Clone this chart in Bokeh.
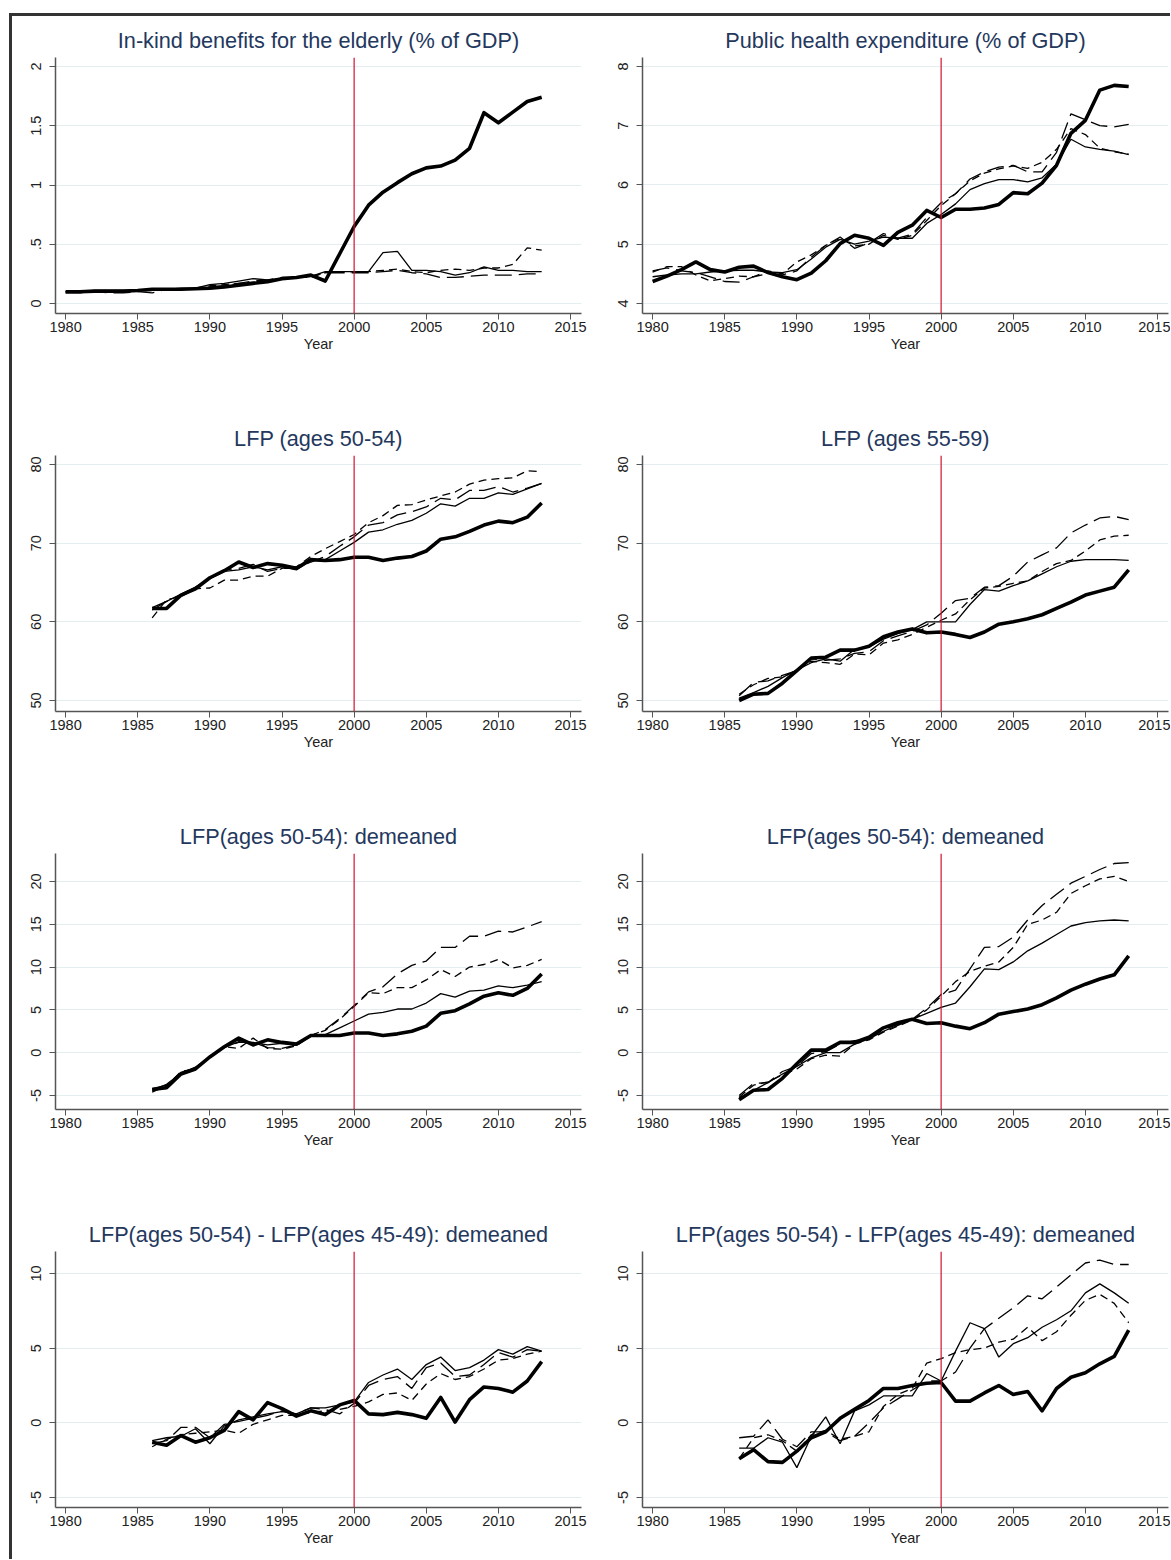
from bokeh.plotting import figure
from bokeh.layouts import column, row
from bokeh.models import Span, FixedTicker, CustomJSTickFormatter, Range1d
from bokeh.embed import file_html
from bokeh.resources import INLINE

# ---------------- data ----------------
years_long = list(range(1980, 2014))
years_short = list(range(1986, 2014))
x_ticks = [1980, 1985, 1990, 1995, 2000, 2005, 2010, 2015]
treat_year = 2000

titles = [
    "In-kind benefits for the elderly (% of GDP)",
    "Public health expenditure (% of GDP)",
    "LFP (ages 50-54)",
    "LFP (ages 55-59)",
    "LFP(ages 50-54): demeaned",
    "LFP(ages 50-54): demeaned",
    "LFP(ages 50-54) - LFP(ages 45-49): demeaned",
    "LFP(ages 50-54) - LFP(ages 45-49): demeaned",
]

# panel 1: in-kind benefits (1980-2013)
inkind_actual = [0.10, 0.10, 0.105, 0.105, 0.105, 0.11, 0.12, 0.12, 0.12, 0.125,
                 0.13, 0.14, 0.155, 0.17, 0.185, 0.21, 0.22, 0.24, 0.19, 0.42,
                 0.65, 0.83, 0.94, 1.02, 1.095, 1.145, 1.16, 1.21, 1.31, 1.61,
                 1.525, 1.615, 1.705, 1.74]
inkind_synth = [0.10, 0.10, 0.11, 0.11, 0.11, 0.11, 0.12, 0.12, 0.13, 0.13,
                0.16, 0.17, 0.19, 0.21, 0.20, 0.21, 0.22, 0.23, 0.27, 0.27,
                0.27, 0.27, 0.43, 0.44, 0.28, 0.28, 0.27, 0.24, 0.26, 0.31,
                0.28, 0.28, 0.27, 0.27]
inkind_short = [0.10, 0.10, 0.10, 0.10, 0.10, 0.11, 0.11, 0.12, 0.12, 0.13,
                0.15, 0.16, 0.17, 0.18, 0.19, 0.21, 0.22, 0.22, 0.26, 0.27,
                0.27, 0.27, 0.28, 0.29, 0.27, 0.26, 0.28, 0.29, 0.28, 0.30,
                0.30, 0.33, 0.47, 0.45]
inkind_long = [0.09, 0.09, 0.10, 0.09, 0.09, 0.10, 0.09, 0.12, 0.12, 0.12,
               0.14, 0.15, 0.17, 0.19, 0.20, 0.22, 0.22, 0.23, 0.26, 0.26,
               0.26, 0.26, 0.27, 0.28, 0.26, 0.25, 0.22, 0.22, 0.23, 0.24,
               0.24, 0.24, 0.25, 0.25]

# panel 2: public health expenditure (1980-2013)
health_actual = [4.37, 4.46, 4.57, 4.70, 4.57, 4.53, 4.61, 4.63, 4.52, 4.45,
                 4.40, 4.51, 4.72, 5.01, 5.15, 5.10, 4.98, 5.20, 5.32, 5.57,
                 5.45, 5.59, 5.59, 5.61, 5.67, 5.87, 5.85, 6.03, 6.33, 6.87,
                 7.09, 7.60, 7.68, 7.66]
health_synth = [4.45, 4.48, 4.50, 4.50, 4.53, 4.55, 4.56, 4.56, 4.53, 4.52,
                4.57, 4.75, 4.95, 5.08, 5.00, 5.05, 5.12, 5.10, 5.10, 5.35,
                5.50, 5.68, 5.92, 6.02, 6.09, 6.09, 6.05, 6.12, 6.35, 6.77,
                6.64, 6.60, 6.57, 6.51]
health_short = [4.53, 4.62, 4.62, 4.48, 4.38, 4.42, 4.46, 4.45, 4.55, 4.50,
                4.70, 4.82, 4.98, 5.10, 4.97, 5.00, 5.15, 5.08, 5.15, 5.40,
                5.65, 5.85, 6.07, 6.20, 6.27, 6.32, 6.28, 6.38, 6.60, 6.95,
                6.85, 6.62, 6.56, 6.52]
health_long = [4.55, 4.60, 4.55, 4.52, 4.45, 4.37, 4.36, 4.45, 4.50, 4.48,
               4.55, 4.78, 4.98, 5.12, 4.93, 5.02, 5.18, 5.10, 5.17, 5.45,
               5.70, 5.85, 6.10, 6.22, 6.30, 6.33, 6.22, 6.22, 6.55, 7.20,
               7.10, 7.00, 6.98, 7.02]

# panel 3: LFP 50-54 (1986-2013)
lfp5054_actual = [61.7, 61.7, 63.4, 64.2, 65.6, 66.5, 67.6, 66.9, 67.4, 67.2,
                  66.8, 67.9, 67.8, 67.9, 68.2, 68.2, 67.8, 68.1, 68.3, 69.0,
                  70.5, 70.8, 71.5, 72.3, 72.8, 72.6, 73.3, 75.1]
lfp5054_synth = [61.5, 62.6, 63.5, 64.4, 65.5, 66.4, 66.6, 67.0, 66.6, 67.0,
                 66.6, 67.8, 67.9, 69.0, 70.1, 71.4, 71.7, 72.4, 72.9, 73.8,
                 75.0, 74.7, 75.7, 75.7, 76.4, 76.2, 76.9, 77.6]
lfp5054_short = [60.5, 62.8, 63.2, 64.2, 64.3, 65.3, 65.3, 65.8, 65.8, 66.8,
                 67.0, 68.3, 69.3, 70.2, 71.1, 72.6, 73.5, 74.8, 74.9, 75.5,
                 76.0, 76.5, 77.5, 78.0, 78.2, 78.3, 79.2, 79.1]
lfp5054_long = [61.8, 62.6, 63.5, 64.4, 65.5, 66.6, 66.8, 67.3, 66.4, 66.8,
                66.8, 67.6, 68.3, 69.6, 70.8, 72.3, 72.6, 73.6, 74.0, 74.6,
                75.7, 75.5, 76.7, 76.7, 77.2, 76.5, 77.0, 77.6]

# panel 4: LFP 55-59 (1986-2013)
lfp5559_actual = [50.0, 50.8, 50.9, 52.2, 53.8, 55.4, 55.5, 56.4, 56.4, 56.9,
                  58.1, 58.7, 59.1, 58.6, 58.7, 58.4, 58.0, 58.7, 59.7, 60.0,
                  60.4, 60.9, 61.7, 62.5, 63.4, 63.9, 64.4, 66.6]
lfp5559_synth = [50.3, 51.0, 51.8, 52.9, 53.9, 54.8, 55.3, 55.0, 56.5, 56.8,
                 57.8, 58.5, 59.0, 60.0, 60.0, 60.0, 62.2, 64.1, 63.9, 64.6,
                 65.2, 66.1, 67.0, 67.7, 67.9, 67.9, 67.9, 67.8]
lfp5559_short = [50.8, 52.0, 52.8, 53.0, 53.8, 55.0, 54.8, 54.6, 55.9, 55.8,
                 57.3, 57.7, 58.4, 59.3, 60.2, 61.0, 62.8, 64.3, 64.5, 64.9,
                 65.2, 66.4, 67.4, 67.8, 69.0, 70.4, 70.9, 71.0]
lfp5559_long = [50.6, 52.3, 52.5, 53.2, 53.8, 55.3, 55.1, 55.3, 56.0, 56.2,
                57.6, 58.2, 58.8, 59.6, 61.1, 62.7, 63.0, 64.4, 64.6, 65.8,
                67.6, 68.5, 69.4, 71.3, 72.3, 73.2, 73.4, 73.0]

# panel 5: LFP 50-54 demeaned, left (1986-2013)
dm_l_actual = [-4.3, -4.1, -2.5, -1.9, -0.5, 0.7, 1.7, 0.9, 1.5, 1.2,
               1.0, 2.0, 2.0, 2.0, 2.3, 2.3, 2.0, 2.2, 2.5, 3.1,
               4.6, 4.9, 5.7, 6.6, 7.0, 6.7, 7.5, 9.2]
dm_l_synth = [-4.4, -3.7, -2.4, -1.7, -0.5, 0.6, 1.3, 1.2, 0.9, 1.1,
              0.9, 1.9, 2.1, 2.9, 3.7, 4.5, 4.7, 5.1, 5.1, 5.8,
              6.9, 6.5, 7.2, 7.3, 7.8, 7.6, 7.9, 8.3]
dm_l_short = [-4.6, -3.9, -2.2, -1.9, -0.4, 0.7, 0.5, 1.7, 0.5, 0.4,
              0.8, 2.0, 2.6, 3.9, 5.4, 7.0, 6.9, 7.6, 7.6, 8.5,
              9.7, 8.9, 10.0, 10.3, 10.9, 9.9, 10.2, 10.9]
dm_l_long = [-4.2, -3.8, -2.3, -1.8, -0.5, 0.7, 1.2, 1.2, 0.6, 0.5,
             0.9, 2.0, 2.7, 4.0, 5.5, 7.1, 7.7, 9.2, 10.2, 10.7,
             12.3, 12.3, 13.6, 13.6, 14.2, 14.1, 14.7, 15.3]

# panel 6: LFP 50-54 demeaned, right (1986-2013)
dm_r_actual = [-5.5, -4.4, -4.3, -3.0, -1.3, 0.3, 0.3, 1.2, 1.2, 1.8,
               2.9, 3.5, 3.9, 3.4, 3.5, 3.1, 2.8, 3.5, 4.5, 4.8,
               5.1, 5.6, 6.4, 7.3, 8.0, 8.6, 9.1, 11.3]
dm_r_synth = [-5.3, -4.4, -3.5, -2.5, -1.6, -0.6, 0.0, 0.0, 1.0, 1.6,
              2.5, 3.2, 3.9, 4.6, 5.3, 5.8, 7.7, 9.8, 9.7, 10.6,
              11.9, 12.8, 13.8, 14.8, 15.2, 15.4, 15.5, 15.4]
dm_r_short = [-5.2, -3.8, -3.4, -2.6, -1.9, -0.7, -0.3, -0.4, 1.0, 1.5,
              2.4, 3.1, 3.8, 5.0, 6.6, 8.3, 9.5, 10.1, 10.6, 12.3,
              15.0, 15.5, 16.4, 18.6, 19.5, 20.3, 20.6, 20.0]
dm_r_long = [-5.0, -3.6, -3.5, -2.2, -1.6, -0.1, 0.1, 1.0, 1.4, 1.6,
             2.7, 3.3, 3.9, 5.2, 6.8, 7.3, 9.8, 12.3, 12.4, 13.5,
             15.5, 17.2, 18.5, 19.8, 20.6, 21.4, 22.1, 22.2]

# panel 7: difference demeaned, left (1986-2013)
df_l_actual = [-1.3, -1.5, -0.85, -1.3, -1.0, -0.5, 0.75, 0.2, 1.35, 0.95,
               0.45, 0.8, 0.55, 1.2, 1.5, 0.6, 0.55, 0.7, 0.55, 0.3,
               1.7, 0.05, 1.55, 2.4, 2.3, 2.05, 2.8, 4.1]
df_l_synth = [-1.2, -1.0, -0.9, -0.4, -1.4, -0.2, 0.2, 0.4, 0.6, 0.75,
              0.6, 1.0, 1.0, 1.2, 1.4, 2.7, 3.2, 3.6, 2.9, 3.9,
              4.4, 3.5, 3.7, 4.2, 4.9, 4.6, 5.1, 4.8]
df_l_short = [-1.6, -1.1, -0.8, -0.7, -0.6, -0.5, -0.7, -0.1, 0.2, 0.5,
              0.5, 0.7, 0.8, 0.9, 1.1, 1.4, 1.9, 2.0, 1.5, 2.6,
              3.3, 2.9, 3.1, 3.6, 4.2, 4.3, 4.6, 4.8]
df_l_long = [-1.4, -1.2, -0.3, -0.3, -1.0, -0.1, 0.1, 0.3, 0.5, 0.8,
             0.6, 1.0, 0.9, 0.6, 1.3, 2.5, 2.9, 3.1, 2.3, 3.7,
             4.0, 3.1, 3.2, 3.9, 4.7, 4.4, 4.9, 4.8]

# panel 8: difference demeaned, right (1986-2013)
df_r_actual = [-2.4, -1.8, -2.6, -2.65, -1.9, -1.0, -0.6, 0.3, 0.9, 1.5,
               2.3, 2.3, 2.5, 2.65, 2.7, 1.45, 1.45, 2.0, 2.5, 1.9,
               2.1, 0.8, 2.3, 3.05, 3.35, 3.95, 4.45, 6.2]
df_r_synth = [-1.7, -1.7, -1.0, -1.3, -3.0, -0.9, 0.4, -1.4, 0.8, 1.2,
              1.8, 1.8, 1.8, 3.3, 2.8, 4.8, 6.7, 6.3, 4.4, 5.3,
              5.7, 6.4, 6.9, 7.5, 8.7, 9.3, 8.7, 8.0]
df_r_short = [-2.4, -1.0, -0.8, -1.2, -1.9, -0.8, -0.5, -1.1, -0.9, -0.6,
              1.1, 1.9, 2.3, 4.0, 4.3, 4.7, 4.9, 5.0, 5.4, 5.6,
              6.4, 5.5, 6.1, 7.2, 8.2, 8.6, 8.0, 6.7]
df_r_long = [-1.0, -0.9, 0.2, -1.1, -1.6, -0.6, -0.6, -1.2, -0.9, 0.0,
             1.0, 1.6, 2.2, 2.8, 2.8, 3.4, 5.0, 6.3, 7.0, 7.7,
             8.5, 8.3, 9.1, 9.9, 10.7, 10.9, 10.6, 10.6]

y_ticks = [
    [0, 0.5, 1, 1.5, 2],
    [4, 5, 6, 7, 8],
    [50, 60, 70, 80],
    [50, 60, 70, 80],
    [-5, 0, 5, 10, 15, 20],
    [-5, 0, 5, 10, 15, 20],
    [-5, 0, 5, 10],
    [-5, 0, 5, 10],
]
y_limits = [
    (-0.084, 2.076), (3.83, 8.15),
    (48.6, 81.14), (48.6, 81.14),
    (-6.64, 23.27), (-6.64, 23.27),
    (-5.67, 11.47), (-5.67, 11.47),
]
panel_series = [
    (years_long, inkind_actual, inkind_synth, inkind_short, inkind_long),
    (years_long, health_actual, health_synth, health_short, health_long),
    (years_short, lfp5054_actual, lfp5054_synth, lfp5054_short, lfp5054_long),
    (years_short, lfp5559_actual, lfp5559_synth, lfp5559_short, lfp5559_long),
    (years_short, dm_l_actual, dm_l_synth, dm_l_short, dm_l_long),
    (years_short, dm_r_actual, dm_r_synth, dm_r_short, dm_r_long),
    (years_short, df_l_actual, df_l_synth, df_l_short, df_l_long),
    (years_short, df_r_actual, df_r_synth, df_r_short, df_r_long),
]

# ---------------- styling ----------------
FONT = "Liberation Sans"
TITLE_COLOR = "#24385e"
AXIS_COLOR = "#555555"
GRID_COLOR = "#e4eef1"
RED = "#cf1430"

y_fmt = CustomJSTickFormatter(code="""
    var s = String(tick);
    if (tick > 0 && tick < 1) { s = s.slice(1); }
    return s;
""")


def make_panel(i):
    left = (i % 2 == 0)
    last = (i >= 6)
    width = 588 if left else 570
    height = 349 if last else 398
    p = figure(width=width, height=height, output_backend="svg",
               toolbar_location=None, tools="",
               x_range=Range1d(1979.3, 2015.76),
               y_range=Range1d(*y_limits[i]),
               min_border_left=43 if left else 42,
               min_border_right=19 if left else 2,
               min_border_top=41,
               min_border_bottom=52 if last else 101)
    p.outline_line_color = None
    p.background_fill_color = "white"
    p.border_fill_color = "white"

    p.title.text = titles[i]
    p.title.align = "center"
    p.title.text_font = FONT
    p.title.text_font_size = "21.7px"
    p.title.text_font_style = "normal"
    p.title.text_color = TITLE_COLOR
    p.title.standoff = 9

    p.xgrid.grid_line_color = None
    p.ygrid.grid_line_color = GRID_COLOR
    p.ygrid.grid_line_width = 1.2

    xa = p.xaxis[0]
    xa.ticker = FixedTicker(ticks=x_ticks)
    xa.axis_label = "Year"
    xa.axis_label_text_font = FONT
    xa.axis_label_text_font_size = "14.5px"
    xa.axis_label_text_font_style = "normal"
    xa.axis_label_text_color = "#222222"
    xa.axis_label_standoff = 1
    xa.major_label_text_font = FONT
    xa.major_label_text_font_size = "14.5px"
    xa.major_label_text_color = "#222222"
    xa.major_label_standoff = 2
    xa.major_tick_out = 6
    xa.major_tick_in = 0
    xa.minor_tick_out = 0
    xa.minor_tick_in = 0
    xa.axis_line_color = AXIS_COLOR
    xa.axis_line_width = 1.5
    xa.major_tick_line_color = AXIS_COLOR

    ya = p.yaxis[0]
    ya.ticker = FixedTicker(ticks=y_ticks[i])
    ya.formatter = y_fmt
    ya.major_label_orientation = "vertical"
    ya.major_label_text_font = FONT
    ya.major_label_text_font_size = "14.5px"
    ya.major_label_text_color = "#222222"
    ya.major_label_standoff = 8
    ya.major_tick_out = 6
    ya.major_tick_in = 0
    ya.minor_tick_out = 0
    ya.minor_tick_in = 0
    ya.axis_line_color = AXIS_COLOR
    ya.axis_line_width = 1.5
    ya.major_tick_line_color = AXIS_COLOR

    yrs, actual, synth, short, long_ = panel_series[i]
    p.line(yrs, long_, line_color="black", line_width=1.3, line_dash="17 7")
    p.line(yrs, short, line_color="black", line_width=1.3, line_dash="8 5")
    p.line(yrs, synth, line_color="black", line_width=1.3)
    p.line(yrs, actual, line_color="black", line_width=3.6, line_join="round")

    p.add_layout(Span(location=treat_year, dimension="height",
                      line_color=RED, line_width=1.2))
    return p


panels = [make_panel(i) for i in range(8)]
rows = [row(panels[2 * k], panels[2 * k + 1]) for k in range(4)]
layout = column(*rows, margin=(13, 0, 0, 9),
                styles={"border-left": "3px solid #333333",
                        "border-top": "3px solid #333333"})

open("out.html", "w").write(file_html(layout, INLINE))
